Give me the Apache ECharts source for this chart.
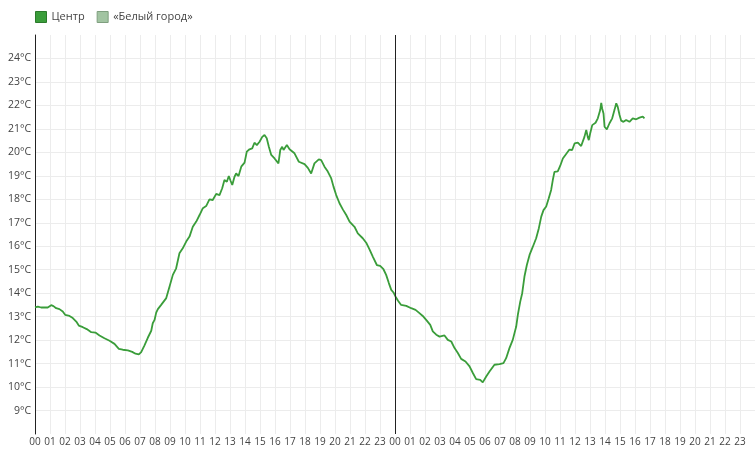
<!DOCTYPE html>
<html>
<head>
<meta charset="utf-8">
<script src="https://cdn.jsdelivr.net/npm/echarts@6/dist/echarts.min.js"></script>
<style>
html,body{margin:0;padding:0;background:#fff;}
#chart{width:755px;height:451px;}
</style>
</head>
<body>
<div id="chart"></div>
<script>
// Hours since 00:00 of the first day
const hours = [
  0.00,0.19,0.41,0.85,1.08,1.23,1.41,1.63,1.85,2.01,2.30,2.52,2.75,2.92,3.19,3.45,3.75,4.03,4.30,4.63,
  4.97,5.30,5.59,5.85,6.19,6.48,6.70,6.92,7.08,7.30,7.52,7.75,7.85,7.97,8.08,8.19,8.41,8.75,8.97,9.19,
  9.41,9.63,9.85,10.08,10.30,10.52,10.75,10.97,11.19,11.41,11.63,11.85,12.08,12.30,12.48,12.63,12.79,12.92,13.03,13.15,
  13.30,13.41,13.57,13.75,13.97,14.12,14.30,14.48,14.63,14.79,14.97,15.15,15.30,15.45,15.59,15.75,15.97,16.23,16.35,16.48,
  16.57,16.79,16.97,17.10,17.30,17.59,17.97,18.19,18.41,18.63,18.92,19.08,19.30,19.52,19.75,19.90,20.08,20.30,20.52,20.75,
  20.97,21.30,21.52,21.85,22.08,22.30,22.52,22.79,23.01,23.23,23.41,23.59,23.75,23.90,24.03,24.19,24.41,24.75,25.08,25.37,
  25.63,25.85,26.12,26.35,26.52,26.75,26.97,27.30,27.52,27.75,27.97,28.19,28.41,28.70,28.97,29.19,29.41,29.68,29.85,30.08,
  30.30,30.63,30.97,31.23,31.41,31.63,31.85,32.08,32.19,32.35,32.48,32.63,32.79,32.97,33.19,33.41,33.59,33.75,33.90,34.08,
  34.25,34.41,34.52,34.63,34.85,35.01,35.19,35.41,35.63,35.81,35.97,36.19,36.41,36.52,36.63,36.75,36.85,36.92,37.01,37.15,
  37.37,37.52,37.68,37.75,37.81,37.90,37.97,38.12,38.30,38.48,38.63,38.75,38.85,38.97,39.08,39.23,39.41,39.63,39.85,40.08,
  40.30,40.52,40.63
];
// «Центр» temperatures, °C
const centerTemps = [
  13.40,13.43,13.39,13.39,13.49,13.45,13.36,13.32,13.22,13.08,13.03,12.94,12.79,12.62,12.55,12.47,12.34,12.32,12.20,12.08,
  11.97,11.84,11.63,11.59,11.56,11.50,11.42,11.39,11.49,11.78,12.10,12.40,12.72,12.86,13.17,13.32,13.50,13.79,14.28,14.78,
  15.06,15.70,15.91,16.20,16.41,16.83,17.05,17.33,17.62,17.71,18.00,17.97,18.23,18.18,18.47,18.82,18.75,18.99,18.80,18.61,
  18.96,19.10,18.99,19.39,19.56,20.03,20.13,20.17,20.41,20.31,20.45,20.66,20.74,20.60,20.24,19.89,19.74,19.53,20.10,20.24,
  20.10,20.31,20.13,20.17,19.96,19.60,19.50,19.34,19.10,19.53,19.70,19.67,19.39,19.18,18.89,18.54,18.18,17.83,17.57,17.33,
  17.05,16.83,16.55,16.34,16.15,15.87,15.56,15.20,15.16,15.02,14.78,14.43,14.14,14.03,13.86,13.69,13.50,13.46,13.36,13.29,
  13.15,13.03,12.83,12.65,12.37,12.23,12.15,12.20,12.01,11.94,11.66,11.45,11.20,11.09,10.88,10.60,10.34,10.31,10.20,10.45,
  10.66,10.95,10.98,11.02,11.23,11.66,12.01,12.58,13.08,13.64,14.00,14.71,15.20,15.63,15.98,16.34,16.77,17.26,17.54,17.69,
  18.04,18.40,18.82,19.17,19.19,19.42,19.74,19.93,20.12,20.10,20.38,20.41,20.27,20.24,20.66,20.95,20.66,20.52,20.80,21.16,
  21.26,21.45,21.80,22.11,21.87,21.66,21.09,20.98,21.24,21.45,21.80,22.09,21.94,21.59,21.35,21.30,21.38,21.30,21.45,21.41,
  21.48,21.52,21.45
];
// «Белый город» has no readings in the picture
const whiteCityTemps = [];
const hourLabels = ['00','01','02','03','04','05','06','07','08','09','10','11',
                    '12','13','14','15','16','17','18','19','20','21','22','23'];
const seriesNames = ['Центр', '«Белый город»'];
const midnightMarks = [24];

const centerData = hours.map((h, i) => [h, centerTemps[i]]);

const chart = echarts.init(document.getElementById('chart'), null, {renderer: 'canvas'});
chart.setOption({
  animation: false,
  backgroundColor: '#ffffff',
  textStyle: {fontFamily: 'Open Sans'},
  legend: {
    left: 30, top: 6,
    itemWidth: 11, itemHeight: 11, itemGap: 12,
    icon: 'rect',
    textStyle: {color: '#444', fontSize: 11, fontFamily: 'Open Sans'},
    data: [
      {name: seriesNames[0], itemStyle: {color: '#3a9d3a', borderColor: '#2b7a2b', borderWidth: 1}},
      {name: seriesNames[1], itemStyle: {color: '#a2c4a2', borderColor: '#7f9f7f', borderWidth: 1}}
    ]
  },
  grid: {left: 35, right: 0, top: 35, bottom: 17, containLabel: false},
  xAxis: {
    type: 'value', min: 0, max: 48, interval: 1,
    axisLine: {show: false},
    axisTick: {show: false},
    splitLine: {show: true, showMinLine: false, lineStyle: {color: '#ececec', width: 1}},
    axisLabel: {
      showMaxLabel: false,
      margin: 3,
      color: '#444', fontSize: 10, fontFamily: 'Open Sans',
      formatter: v => hourLabels[((v % 24) + 24) % 24]
    }
  },
  yAxis: {
    type: 'value', min: 8, max: 25, interval: 1,
    axisLine: {show: true, lineStyle: {color: '#222', width: 1}},
    axisTick: {show: false},
    splitLine: {show: true, showMinLine: false, showMaxLine: false, lineStyle: {color: '#ececec', width: 1}},
    axisLabel: {
      showMinLabel: false, showMaxLabel: false,
      margin: 4,
      color: '#444', fontSize: 10.5, fontFamily: 'Open Sans',
      formatter: v => v + '°C'
    }
  },
  series: [
    {
      name: seriesNames[0], type: 'line', data: centerData,
      showSymbol: false, symbol: 'none',
      lineStyle: {color: '#3a9d3a', width: 1.8},
      itemStyle: {color: '#3a9d3a'},
      markLine: {
        silent: true, symbol: 'none', label: {show: false},
        lineStyle: {color: '#222', width: 1, type: 'solid'},
        data: midnightMarks.map(m => ({xAxis: m}))
      },
      z: 3
    },
    {
      name: seriesNames[1], type: 'line', data: whiteCityTemps,
      showSymbol: false, symbol: 'none',
      lineStyle: {color: '#a2c4a2', width: 1.8},
      itemStyle: {color: '#a2c4a2'}
    }
  ]
});
</script>
</body>
</html>
